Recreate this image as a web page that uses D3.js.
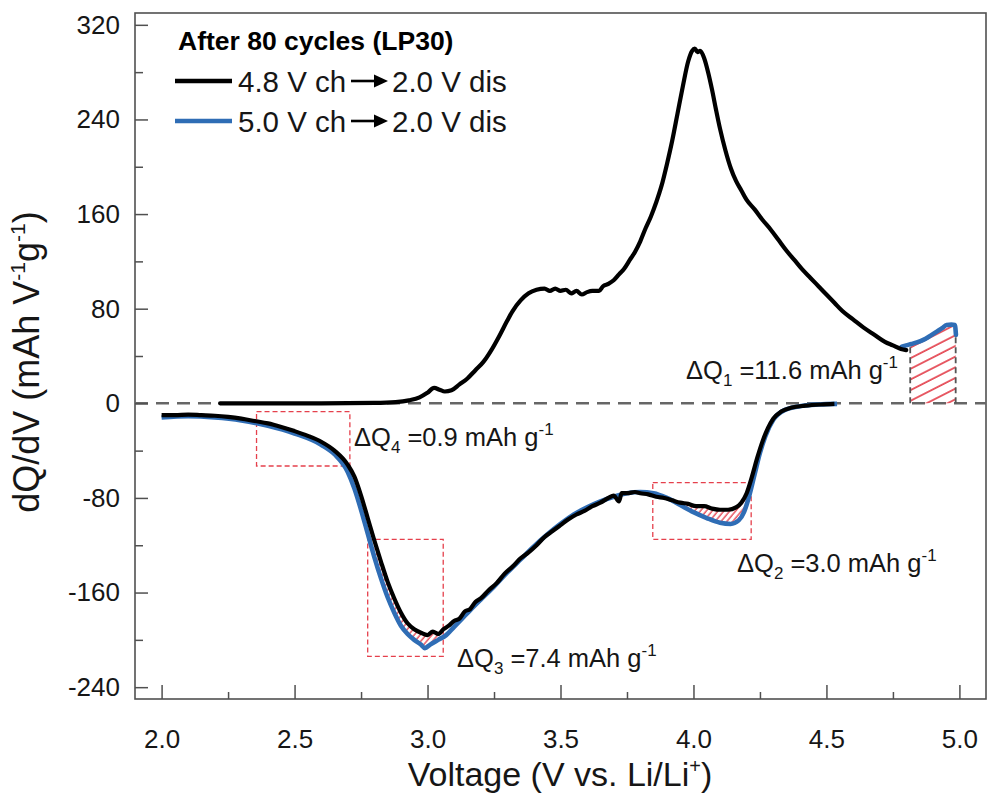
<!DOCTYPE html>
<html>
<head>
<meta charset="utf-8">
<script src="https://cdn.jsdelivr.net/npm/d3@7"></script>
<style>
  html, body { margin: 0; padding: 0; background: #fff; }
  svg { display: block; font-family: "Liberation Sans", Arial, sans-serif; }
</style>
</head>
<body>
<svg id="chart" width="987" height="796"></svg>
<script>
// Charge branch, 4.8 V cut-off (black)
const chargeBlackV = [2.22, 2.4, 2.6, 2.8, 2.88, 2.93, 2.97, 3.0, 3.025, 3.045, 3.065, 3.09, 3.12, 3.15, 3.18, 3.21, 3.24, 3.27, 3.30, 3.32, 3.35, 3.38, 3.41, 3.44, 3.46, 3.48, 3.50, 3.52, 3.54, 3.56, 3.58, 3.60, 3.62, 3.645, 3.66, 3.68, 3.70, 3.72, 3.74, 3.76, 3.78, 3.80, 3.82, 3.84, 3.86, 3.88, 3.90, 3.92, 3.94, 3.96, 3.98, 3.995, 4.005, 4.015, 4.025, 4.04, 4.055, 4.07, 4.085, 4.10, 4.12, 4.14, 4.16, 4.18, 4.20, 4.23, 4.26, 4.29, 4.32, 4.35, 4.38, 4.41, 4.44, 4.47, 4.50, 4.53, 4.56, 4.60, 4.64, 4.68, 4.72, 4.75, 4.78, 4.80];
const chargeBlackQ = [0, 0, 0, 0.3, 1, 2.5, 5, 9, 13, 11.5, 10, 11, 16, 21, 28, 35, 45, 57, 70, 78, 87, 93, 96, 97, 95, 97, 95, 96, 93, 95, 92, 94, 95, 95, 99, 101, 104, 109, 114, 121, 128, 137, 148, 158, 170, 184, 202, 222, 245, 268, 289, 298, 300, 297, 298, 292, 280, 265, 248, 232, 214, 199, 188, 180, 172, 164, 155, 147, 138, 129, 121, 113, 106, 99, 92, 85, 78, 71, 64, 58, 52, 49, 46, 45];

// Charge branch, 5.0 V cut-off (blue) beyond the 4.8 V end point
const chargeBlueV = [4.783, 4.80, 4.82, 4.84, 4.864, 4.89, 4.915, 4.935, 4.952, 4.97, 4.983, 4.987];
const chargeBlueQ = [47.9, 49, 50.2, 51.5, 53.6, 57, 60.6, 63.5, 66.2, 66.5, 66.2, 57.8];

// Discharge branch after 4.8 V charge (black)
const disBlackV = [2.0, 2.05, 2.1, 2.15, 2.2, 2.25, 2.3, 2.35, 2.4, 2.45, 2.5, 2.55, 2.6, 2.65, 2.70, 2.725, 2.75, 2.775, 2.80, 2.825, 2.85, 2.875, 2.90, 2.925, 2.95, 2.975, 3.0, 3.02, 3.04, 3.06, 3.08, 3.10, 3.12, 3.14, 3.16, 3.18, 3.20, 3.23, 3.26, 3.29, 3.32, 3.35, 3.38, 3.41, 3.44, 3.47, 3.50, 3.53, 3.56, 3.59, 3.62, 3.65, 3.68, 3.70, 3.72, 3.73, 3.75, 3.78, 3.80, 3.83, 3.86, 3.89, 3.92, 3.95, 3.98, 4.01, 4.04, 4.07, 4.10, 4.13, 4.16, 4.18, 4.20, 4.22, 4.24, 4.26, 4.28, 4.30, 4.33, 4.37, 4.42, 4.48, 4.53];
const disBlackQ = [-10, -10, -9.5, -10, -10.5, -11.5, -13, -15, -17, -20, -23.5, -27.5, -32.5, -40, -52, -62, -78, -97, -116, -134, -151, -165, -177, -186, -191, -194, -196, -193, -195, -191, -188, -184, -182, -176, -174, -168, -165, -158, -152, -144, -138, -131, -126, -120, -113, -108, -103, -98, -94, -91, -87, -84, -80, -78, -83, -76, -76, -75, -76, -77, -79, -80, -82, -84, -85, -87, -87, -89, -90, -90, -88, -84, -76, -62, -46, -32, -21, -13, -7, -3.5, -2, -1, -0.5];

// Discharge branch after 5.0 V charge (blue)
const disBlueV = [2.0, 2.1, 2.2, 2.3, 2.4, 2.5, 2.6, 2.65, 2.70, 2.725, 2.75, 2.775, 2.80, 2.825, 2.85, 2.875, 2.90, 2.925, 2.95, 2.975, 2.99, 3.01, 3.04, 3.07, 3.10, 3.13, 3.16, 3.20, 3.25, 3.30, 3.35, 3.40, 3.45, 3.50, 3.55, 3.60, 3.65, 3.70, 3.75, 3.80, 3.85, 3.90, 3.95, 4.00, 4.05, 4.10, 4.14, 4.17, 4.19, 4.21, 4.23, 4.25, 4.27, 4.30, 4.34, 4.40, 4.47, 4.54];
const disBlueQ = [-12, -11, -12, -14.5, -19, -25.5, -35, -43, -58, -72, -90, -110, -130, -148, -164, -177, -188, -195, -200, -204, -207, -204, -200, -196, -189, -182, -175, -166, -155, -143, -132, -121, -111, -102, -94, -88, -83, -79, -76, -75, -76, -80, -86, -92, -97, -101, -102, -99, -92, -78, -60, -42, -28, -14, -6, -2.5, -1, -0.5];

// Axis ticks
const xTicks = [2.0, 2.5, 3.0, 3.5, 4.0, 4.5, 5.0];
const xMinorTicks = [2.25, 2.75, 3.25, 3.75, 4.25, 4.75];
const yTicks = [-240, -160, -80, 0, 80, 160, 240, 320];
const yMinorTicks = [-200, -120, -40, 40, 120, 200, 280];

// Shaded capacity differences: voltage windows
const dq1Range = [4.815, 4.986];
const dq2Range = [3.93, 4.205];
const dq3Range = [2.78, 3.05];
// Dashed boxes [V0, V1, Q0, Q1]
const boxDQ4 = [2.357, 2.708, -7, -53];
const boxDQ3 = [2.775, 3.059, -115, -214];
const boxDQ2 = [3.847, 4.217, -67, -115];

const BLACK = "#000000";
const BLUE = "#2f6db5";
const RED = "#e02a38";
const TEXT = "#161616";

const svg = d3.select("#chart");
const x = d3.scaleLinear().domain([1.9, 5.1]).range([135, 986]);
const y = d3.scaleLinear().domain([-250, 330]).range([699, 13]);

const zip = (vs, qs) => vs.map((v, i) => [v, qs[i]]);
const chargeBlack = zip(chargeBlackV, chargeBlackQ);
const chargeBlue = zip(chargeBlueV, chargeBlueQ);
const disBlack = zip(disBlackV, disBlackQ);
const disBlue = zip(disBlueV, disBlueQ);

// Hatch patterns
const defs = svg.append("defs");
defs.append("pattern").attr("id", "hatchWide")
  .attr("patternUnits", "userSpaceOnUse").attr("width", 20).attr("height", 9.5)
  .attr("patternTransform", "rotate(-27)")
  .append("line").attr("x1", 0).attr("y1", 1).attr("x2", 20).attr("y2", 1)
  .attr("stroke", RED).attr("stroke-width", 1.5);
defs.append("pattern").attr("id", "hatchFine")
  .attr("patternUnits", "userSpaceOnUse").attr("width", 10).attr("height", 4.5)
  .attr("patternTransform", "rotate(-50)")
  .append("line").attr("x1", 0).attr("y1", 1).attr("x2", 10).attr("y2", 1)
  .attr("stroke", RED).attr("stroke-width", 1.2);

const line = d3.line().x(d => x(d[0])).y(d => y(d[1])).curve(d3.curveMonotoneX);
const lineLin = d3.line().x(d => x(d[0])).y(d => y(d[1]));

// Frame
svg.append("rect").attr("x", 135).attr("y", 13).attr("width", 851).attr("height", 686)
  .attr("fill", "none").attr("stroke", "#505050").attr("stroke-width", 1.6);

// Zero line
svg.append("line").attr("x1", x(1.9)).attr("x2", x(5.1)).attr("y1", y(0)).attr("y2", y(0))
  .attr("stroke", "#666").attr("stroke-width", 2.6).attr("stroke-dasharray", "13,8");

// ΔQ1 hatched area under the 5.0 V charge tail
const interpBlue = v => {
  for (let i = 1; i < chargeBlue.length; i++) {
    if (chargeBlue[i][0] >= v) {
      const [a, b] = [chargeBlue[i - 1], chargeBlue[i]];
      return a[1] + (b[1] - a[1]) * (v - a[0]) / (b[0] - a[0]);
    }
  }
  return chargeBlue[chargeBlue.length - 1][1];
};
const dq1Pts = chargeBlue.filter(d => d[0] > dq1Range[0] && d[0] < dq1Range[1]);
const dq1Area = d3.area().x(d => x(d[0])).y0(y(0)).y1(d => y(d[1])).curve(d3.curveMonotoneX);
const dq1Poly = [[dq1Range[0], interpBlue(dq1Range[0])], ...dq1Pts, [dq1Range[1], interpBlue(dq1Range[1])]];
svg.append("path").attr("d", dq1Area(dq1Poly)).attr("fill", "url(#hatchWide)");
dq1Range.forEach(v => {
  svg.append("line").attr("x1", x(v)).attr("x2", x(v)).attr("y1", y(0)).attr("y2", y(interpBlue(v)))
    .attr("stroke", "#555").attr("stroke-width", 1.8).attr("stroke-dasharray", "6,4");
});

// Hatched areas between the two discharge curves
function between(range) {
  const a = disBlack.filter(d => d[0] >= range[0] && d[0] <= range[1]);
  const b = disBlue.filter(d => d[0] >= range[0] && d[0] <= range[1]).reverse();
  return lineLin(a.concat(b)) + "Z";
}
[dq2Range, dq3Range].forEach(r => {
  svg.append("path").attr("d", between(r)).attr("fill", "url(#hatchFine)");
});

// Dashed boxes
[boxDQ4, boxDQ3, boxDQ2].forEach(b => {
  svg.append("rect").attr("x", x(b[0])).attr("y", y(b[2]))
    .attr("width", x(b[1]) - x(b[0])).attr("height", y(b[3]) - y(b[2]))
    .attr("fill", "none").attr("stroke", "#e5404c").attr("stroke-width", 1.3)
    .attr("stroke-dasharray", "5,3");
});

// Curves
svg.append("path").attr("d", line(disBlue)).attr("fill", "none")
  .attr("stroke", BLUE).attr("stroke-width", 4.6).attr("stroke-linejoin", "round");
svg.append("path").attr("d", line(disBlack)).attr("fill", "none")
  .attr("stroke", BLACK).attr("stroke-width", 4.2).attr("stroke-linejoin", "round");
svg.append("path").attr("d", line(chargeBlue)).attr("fill", "none")
  .attr("stroke", BLUE).attr("stroke-width", 4.6).attr("stroke-linejoin", "round").attr("stroke-linecap", "round");
svg.append("path").attr("d", line(chargeBlack)).attr("fill", "none")
  .attr("stroke", BLACK).attr("stroke-width", 4.2).attr("stroke-linejoin", "round").attr("stroke-linecap", "round");

// Axes
const axFont = 26;
const gx = svg.append("g").attr("transform", "translate(0,699)")
  .call(d3.axisBottom(x).tickValues(xTicks).tickFormat(d3.format(".1f")).tickSize(-14).tickPadding(31));
const gxm = svg.append("g").attr("transform", "translate(0,699)")
  .call(d3.axisBottom(x).tickValues(xMinorTicks).tickFormat("").tickSize(-7));
const gy = svg.append("g").attr("transform", "translate(135,0)")
  .call(d3.axisLeft(y).tickValues(yTicks).tickFormat(d => String(d)).tickSize(-13).tickPadding(15));
const gym = svg.append("g").attr("transform", "translate(135,0)")
  .call(d3.axisLeft(y).tickValues(yMinorTicks).tickFormat("").tickSize(-8));
[gx, gxm, gy, gym].forEach(g => {
  g.select(".domain").remove();
  g.selectAll(".tick line").attr("stroke", "#505050").attr("stroke-width", 1.5);
  g.selectAll(".tick text").attr("font-size", axFont).attr("fill", TEXT)
    .attr("font-family", "'Liberation Sans', Arial, sans-serif");
});

// Axis titles
const xt = svg.append("text").attr("x", 560).attr("y", 786).attr("text-anchor", "middle")
  .attr("font-size", 34).attr("fill", TEXT);
xt.append("tspan").text("Voltage (V vs. Li/Li");
xt.append("tspan").attr("font-size", 20).attr("dy", -13).text("+");
xt.append("tspan").attr("dy", 13).text(")");

const yt = svg.append("text").attr("transform", "translate(39,362) rotate(-90)")
  .attr("text-anchor", "middle").attr("font-size", 36).attr("fill", TEXT);
yt.append("tspan").text("dQ/dV (mAh V");
yt.append("tspan").attr("font-size", 21).attr("dy", -14).text("-1");
yt.append("tspan").attr("dy", 14).text("g");
yt.append("tspan").attr("font-size", 21).attr("dy", -14).text("-1");
yt.append("tspan").attr("dy", 14).text(")");

// Legend
svg.append("text").attr("x", 178).attr("y", 50).attr("font-size", 26.5).attr("font-weight", "bold")
  .attr("fill", "#000").text("After 80 cycles (LP30)");
const legend = [
  { color: BLACK, from: "4.8 V ch", to: "2.0 V dis", yy: 81 },
  { color: BLUE, from: "5.0 V ch", to: "2.0 V dis", yy: 121 }
];
legend.forEach(l => {
  svg.append("line").attr("x1", 175).attr("x2", 232).attr("y1", l.yy).attr("y2", l.yy)
    .attr("stroke", l.color).attr("stroke-width", 4.5);
  svg.append("text").attr("x", 238).attr("y", l.yy + 10.5).attr("font-size", 29.5).attr("fill", TEXT).text(l.from);
  svg.append("line").attr("x1", 351).attr("x2", 376).attr("y1", l.yy).attr("y2", l.yy)
    .attr("stroke", "#000").attr("stroke-width", 2.6);
  svg.append("path").attr("d", `M374,${l.yy - 6.5}L388,${l.yy}L374,${l.yy + 6.5}Z`).attr("fill", "#000");
  svg.append("text").attr("x", 392).attr("y", l.yy + 10.5).attr("font-size", 29.5).attr("fill", TEXT).text(l.to);
});

// ΔQ annotations
const notes = [
  { sub: "1", val: "=11.6 mAh g", px: 686, py: 379 },
  { sub: "4", val: "=0.9 mAh g", px: 354, py: 446 },
  { sub: "3", val: "=7.4 mAh g", px: 457, py: 667 },
  { sub: "2", val: "=3.0 mAh g", px: 737, py: 572 }
];
notes.forEach(n => {
  const t = svg.append("text").attr("x", n.px).attr("y", n.py).attr("font-size", 25.5).attr("fill", TEXT);
  t.append("tspan").text("ΔQ");
  t.append("tspan").attr("font-size", 17).attr("dy", 7).text(n.sub);
  t.append("tspan").attr("dy", -7).text(" " + n.val);
  t.append("tspan").attr("font-size", 17).attr("dy", -11).text("-1");
});
</script>
</body>
</html>
